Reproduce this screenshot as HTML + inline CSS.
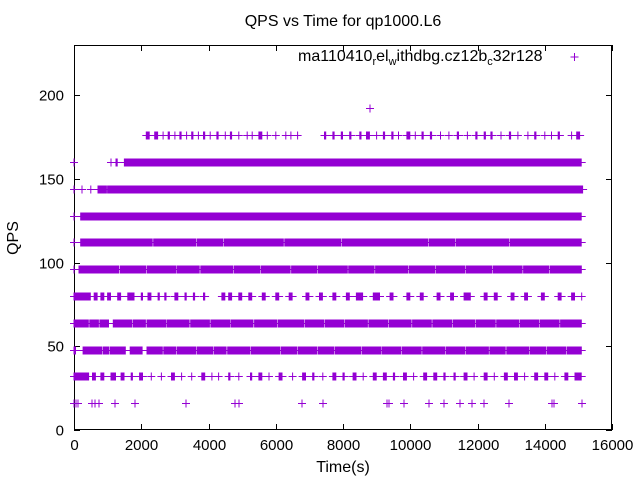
<!DOCTYPE html>
<html><head><meta charset="utf-8">
<style>
body{margin:0;background:#fff;}
svg{display:block;font-family:"Liberation Sans",sans-serif;}
</style></head>
<body>
<svg id="chart" width="640" height="480" viewBox="0 0 640 480" xmlns="http://www.w3.org/2000/svg">
<rect width="640" height="480" fill="#fff"/>
<text x="343" y="26" font-size="16" text-anchor="middle">QPS vs Time for qp1000.L6</text>
<g id="axes"></g>
<g id="marks"></g>
<text x="343" y="472" font-size="16" text-anchor="middle">Time(s)</text>
<text x="0" y="0" font-size="16" text-anchor="middle" transform="translate(18,238) rotate(-90)">QPS</text>
<text x="298" y="61" font-size="16">ma110410<tspan font-size="11" dy="4">r</tspan><tspan dy="-4">el</tspan><tspan font-size="11" dy="4">w</tspan><tspan dy="-4">ithdbg.cz12b</tspan><tspan font-size="11" dy="4">c</tspan><tspan dy="-4">32r128</tspan></text>
<path d="M570.5 57h8M574.5 53v8" stroke="#9400d3" stroke-width="1"/>
</svg>
<script>
const xTicks=[0,2000,4000,6000,8000,10000,12000,14000,16000];
const yTicks=[0,50,100,150,200];
const levels=[16,32,48,64,80,96,112,128,144,160,176,192];
const runs16=[[0,0],[60,60],[119,119],[535,535],[625,625],[743,743],[1219,1219],[1814,1814],[3331,3331],[4788,4788],[4907,4907],[6781,6781],[7405,7405],[9309,9309],[9368,9368],[9814,9814],[10557,10557],[11004,11004],[11480,11480],[11837,11837],[12193,12193],[12937,12937],[14216,14216],[14276,14276],[15108,15108]];
const runs32=[[0,450],[550,650],[800,900],[1100,1250],[1400,1500],[1700,1750],[1950,2050],[2300,2300],[2600,2600],[2900,3000],[3200,3200],[3500,3500],[3800,3900],[4100,4100],[4300,4300],[4600,4650],[4900,4900],[5250,5300],[5500,5600],[5800,5800],[6100,6200],[6500,6500],[6800,6900],[7100,7150],[7400,7400],[7700,7800],[8000,8050],[8300,8400],[8600,8600],[8900,9000],[9200,9300],[9500,9550],[9800,9900],[10100,10100],[10400,10500],[10700,10800],[11000,11050],[11300,11350],[11600,11700],[11900,11900],[12200,12300],[12500,12500],[12800,12900],[13100,13200],[13400,13400],[13700,13800],[14000,14100],[14300,14300],[14600,14700],[14900,15100]];
const runs48=[[0,60],[270,840],[870,1040],[1070,1540],[1670,2040],[2170,2640],[2670,3040],[3070,3640],[3670,4140],[4170,4540],[4570,5240],[5270,6140],[6170,6640],[6670,7240],[7270,7740],[7770,8540],[8570,9140],[9170,9740],[9770,10340],[10370,11040],[11070,11640],[11670,12340],[12370,12840],[12870,13540],[13570,14040],[14070,14640],[14670,15100]];
const runs64=[[0,440],[470,740],[770,1040],[1170,1740],[1770,2140],[2170,2740],[2770,3440],[3470,4040],[4070,4640],[4670,5340],[5370,6040],[6070,6840],[6870,7440],[7470,8040],[8070,8740],[8770,9340],[9370,10040],[10070,10640],[10670,11240],[11270,11940],[11970,12540],[12570,13240],[13270,13840],[13870,14440],[14470,15100]];
const runs80=[[0,500],[600,700],[800,900],[1000,1100],[1300,1400],[1600,1800],[2000,2050],[2200,2300],[2500,2550],[2700,2750],[3000,3100],[3300,3350],[3550,3600],[3850,3900],[4400,4500],[4600,4700],[4900,5000],[5200,5300],[5600,5700],[6000,6100],[6400,6500],[6900,7000],[7300,7400],[7700,7800],[8100,8200],[8400,8600],[8900,9100],[9400,9500],[9900,10000],[10300,10400],[10800,10900],[11200,11300],[11600,11800],[12200,12300],[12500,12600],[13000,13100],[13400,13500],[13900,14000],[14400,14500],[14800,14900],[15100,15100]];
const runs96=[[0,0],[150,1340],[1370,2140],[2170,3040],[3070,3740],[3770,4740],[4770,5540],[5570,6440],[6470,7240],[7270,8140],[8170,8940],[8970,9940],[9970,10740],[10770,11640],[11670,12440],[12470,13340],[13370,14140],[14170,15100]];
const runs112=[[0,0],[200,2340],[2370,3640],[3670,4440],[4470,6240],[6270,7940],[7970,10540],[10570,11340],[11370,12940],[12970,15100]];
const runs128=[[0,0],[200,15100]];
const runs144=[[0,0],[238,238],[500,500],[714,980],[1000,15140]];
const runs160=[[0,0],[1100,1100],[1250,1300],[1500,15100]];
const runs176=[[2150,2250],[2400,2500],[2650,2650],[2800,2850],[3000,3000],[3150,3200],[3350,3350],[3500,3550],[3700,3700],[3850,3900],[4050,4050],[4250,4300],[4500,4500],[4650,4700],[4900,4900],[5150,5150],[5300,5300],[5500,5600],[5750,5750],[6000,6000],[6300,6300],[6450,6450],[6650,6650],[7450,7500],[7700,7750],[7950,8000],[8200,8250],[8500,8550],[8700,8800],[9000,9000],[9200,9250],[9450,9500],[9650,9650],[9900,10000],[10150,10150],[10350,10400],[10600,10650],[10900,10900],[11150,11150],[11400,11450],[11700,11700],[11950,12000],[12200,12250],[12400,12450],[12700,12700],[12950,13000],[13200,13200],[13500,13500],[13700,13750],[14000,14000],[14200,14200],[14400,14450],[14800,14800],[14950,15050]];
const runs192=[[8803,8803]];
const allRuns=[runs16,runs32,runs48,runs64,runs80,runs96,runs112,runs128,runs144,runs160,runs176,runs192];
const X0=74,X1=612,Y0=430,YT=45;
function sx(t){return X0+t*(X1-X0)/16000;}
function sy(q){return Y0-q*(Y0-95)/200;}
const NS="http://www.w3.org/2000/svg";
const axes=document.getElementById('axes');
const marks=document.getElementById('marks');
function mk(tag,attrs,parent){const e=document.createElementNS(NS,tag);for(const k in attrs)e.setAttribute(k,attrs[k]);parent.appendChild(e);return e;}
const frame=mk('rect',{x:X0+0.5,y:YT+0.5,width:X1-X0-1,height:Y0-YT-1,fill:'none',stroke:'#000','stroke-width':1},axes);


xTicks.forEach(v=>{const x=Math.round(sx(v))+0.5;
 const tk=mk('path',{d:`M${x} ${Y0}v-6M${x} ${YT}v6`,stroke:'#000'},axes);
 
 
 const lb=mk('text',{x:x,y:Y0+20,'font-size':15,'text-anchor':'middle'},axes);lb.textContent=v;
 
 });
yTicks.forEach(v=>{const y=Math.round(sy(v))+0.5;
 const tk=mk('path',{d:`M${X0} ${y}h6M${X1} ${y}h-6`,stroke:'#000'},axes);
 
 
 const lb=mk('text',{x:X0-10,y:y+5,'font-size':15,'text-anchor':'end'},axes);lb.textContent=v;
 
 });
levels.forEach((q,i)=>{const y=Math.round(sy(q))+0.5;
 allRuns[i].forEach(r=>{const a=sx(r[0]),b=sx(r[1]);
  const p=mk('path',{d:`M${(a-4).toFixed(1)} ${y}H${(b+4).toFixed(1)}M${a.toFixed(1)} ${y-4}v8`,stroke:'#9400d3','stroke-width':1,fill:'none'},marks);
  
  
  if(b-a>=1){const rc=mk('rect',{x:a.toFixed(1),y:y-4,width:(b-a).toFixed(1),height:8,fill:'#9400d3'},marks);
   
   }
 });});
</script>
</body></html>
